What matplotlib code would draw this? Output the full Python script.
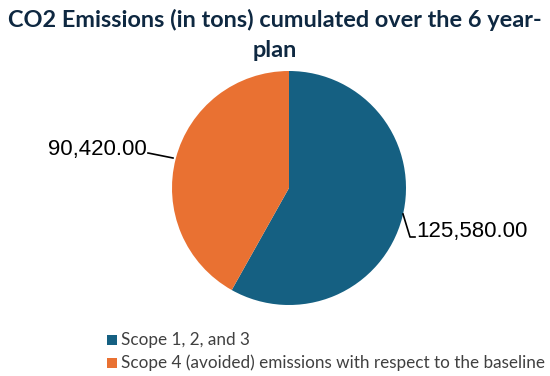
import matplotlib.pyplot as plt
from matplotlib.patches import Rectangle

categories = ["Scope 1, 2, and 3", "Scope 4 (avoided) emissions with respect to the baseline"]
values = [125580.00, 90420.00]
colors = ["#156082", "#E97132"]
title = "CO2 Emissions (in tons) cumulated over the 6 year-\nplan"

W, H = 550, 376
fig = plt.figure(figsize=(W / 100, H / 100), dpi=100)
plt.rcParams['font.family'] = ['Lato', 'DejaVu Sans']

# pie axes: center (289,188), radius 117
cx, cy, r = 289, 188, 117
ax = fig.add_axes([(cx - r) / W, 1 - (cy + r) / H, 2 * r / W, 2 * r / H])
wedges, _ = ax.pie(values, colors=colors, startangle=90, counterclock=False,
                   radius=1.0, wedgeprops=dict(linewidth=0))
ax.set_xlim(-1, 1); ax.set_ylim(-1, 1)
ax.set_aspect('auto')
ax.axis('off')

def fig_xy(px, py):
    return px / W, 1 - py / H

lbl_kw = dict(fontsize=16, color='#000000', family=['Liberation Sans', 'DejaVu Sans'])
# left label
x0, y0 = fig_xy(147, 150)
fig.text(x0, y0, f"{values[1]:,.2f}", ha='right', va='center', **lbl_kw)
fig.lines.append(plt.Line2D([148 / W, 173 / W], [1 - 153 / H, 1 - 158 / H],
                            transform=fig.transFigure, color='black', lw=1.2))
# right label
x1, y1 = fig_xy(416, 231)
fig.text(x1, y1, f"{values[0]:,.2f}", ha='left', va='center', **lbl_kw)
fig.lines.append(plt.Line2D([403 / W, 410 / W, 415 / W],
                            [1 - 214 / H, 1 - 237 / H, 1 - 237 / H],
                            transform=fig.transFigure, color='black', lw=1.2))

# title
fig.text(0.5, 1 - 35 / H, title, ha='center', va='center', fontsize=16.9,
         fontweight='bold', color='#0E2841', linespacing=1.5)

# legend
leg_y = [340, 363]
for i, (lab, c) in enumerate(zip(categories, colors)):
    fig.patches.append(Rectangle((107 / W, 1 - (leg_y[i] + 5) / H), 10 / W, 10 / H,
                                 transform=fig.transFigure, facecolor=c, edgecolor='none'))
    fig.text(121 / W, 1 - leg_y[i] / H, lab, ha='left', va='center', fontsize=12.3,
             color='#404040')

fig.savefig("out.png", dpi=100)
